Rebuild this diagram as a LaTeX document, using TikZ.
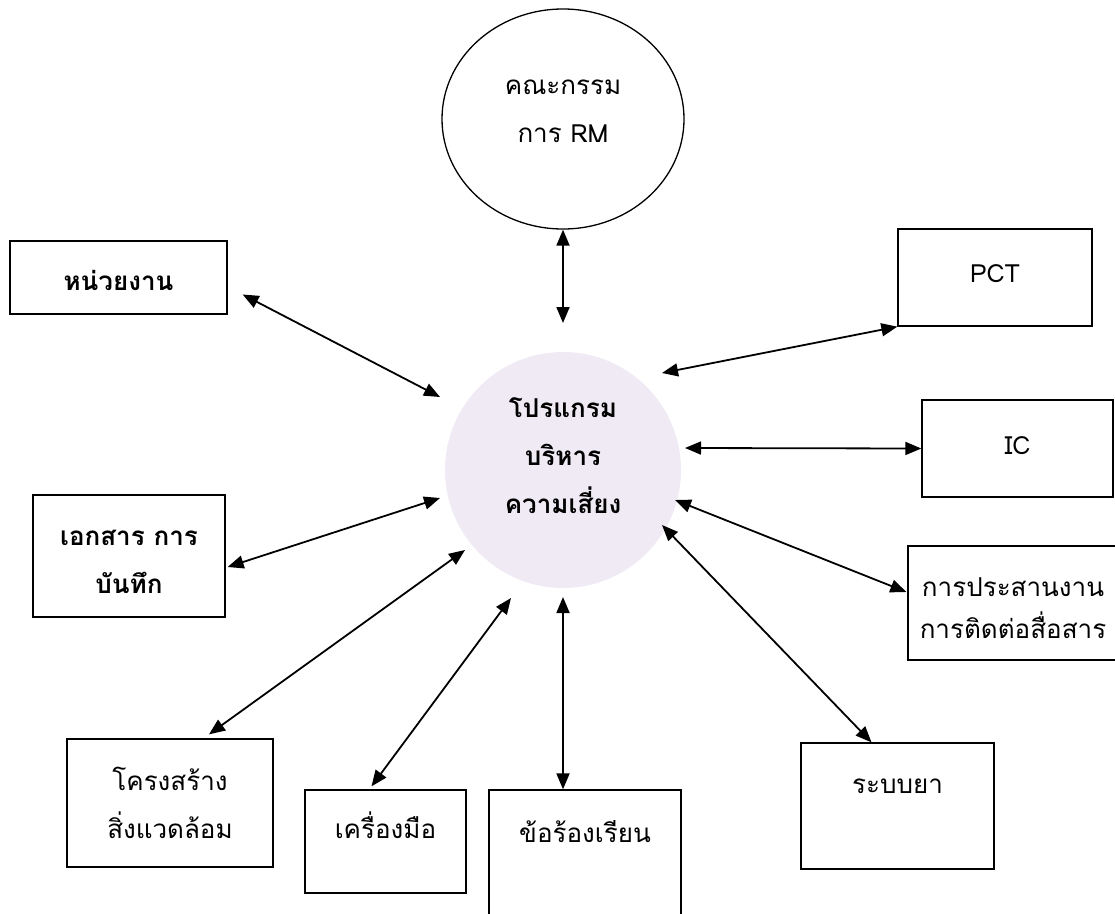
\documentclass[tikz,border=0pt]{standalone}
\usepackage{fontspec}
\usepackage{tikz}
\usetikzlibrary{arrows.meta,calc,shapes.geometric}
\newfontfamily\thaifont[Script=Thai]{Loma}
\definecolor{hubfill}{HTML}{EFEAF4}
\newcommand\latn[1]{{\fontsize{25}{48}\selectfont #1}}

\tikzset{
  every node/.style={font=\thaifont\fontsize{26}{48}\selectfont, align=center, text height=30pt},
  heavy/.style={font=\thaifont\bfseries\fontsize{26}{48}\selectfont},
  block/.style={draw, rectangle, line width=1.3pt, inner sep=0pt},
  drop/.style={text depth=#1},
  lines/.style={text height=#1, text depth=10pt},
  link/.style={{Triangle[length=16pt,width=13pt]}-{Triangle[length=16pt,width=13pt]}, line width=1.8pt},
}

\begin{document}
\begin{tikzpicture}[x=1pt,y=-1pt]
  \useasboundingbox (0,0) rectangle (1115,913);
  \node[circle, fill=hubfill, minimum size=236pt, inner sep=0pt, lines=96pt, heavy] (prog) at (563,470) {โปรแกรม\\บริหาร\\ความเสี่ยง};
  \node[draw, ellipse, line width=1.3pt, minimum width=242pt, minimum height=220pt, inner sep=0pt, lines=56pt] (rm) at (563,119) {คณะกรรม\\การ \latn{RM}};
  \node[block, heavy, minimum width=217pt, minimum height=73pt, drop=5pt] (unit) at (118.5,277.5) {หน่วยงาน};
  \node[block, heavy, minimum width=192pt, minimum height=122pt, lines=84pt] (docs) at (129,556) {เอกสาร การ\\บันทึก};
  \node[block, minimum width=206pt, minimum height=128pt, lines=80pt] (infra) at (170,803) {โครงสร้าง\\สิ่งแวดล้อม};
  \node[block, minimum width=161pt, minimum height=103pt, drop=37pt] (tools) at (385.5,841.5) {เครื่องมือ};
  \node[block, minimum width=192pt, minimum height=150pt, drop=76pt] (complaint) at (585,865) {ข้อร้องเรียน};
  \node[block, minimum width=193pt, minimum height=126pt, drop=56pt] (meds) at (897.5,806) {ระบบยา};
  \node[block, minimum width=210pt, minimum height=114pt, lines=80pt, font=\thaifont\fontsize{26}{42}\selectfont] (coord) at (1013,603) {การประสานงาน\\การติดต่อสื่อสาร};
  \node[block, minimum width=191pt, minimum height=97pt, drop=19pt] (ic) at (1017.5,448.5) {\latn{IC}};
  \node[block, minimum width=194pt, minimum height=97pt, drop=21pt] (pct) at (995,277.5) {\latn{PCT}};

  \draw[link] (rm.south) -- ($(prog)+(0,-147)$);
  \draw[link] ([shift={(15,17)}]unit.east) -- ($(prog)+(-123,-73)$);
  \draw[link] (pct.south west) -- ($(prog)+(99,-97)$);
  \draw[link] (ic.west) -- ($(prog)+(122,-22)$);
  \draw[link] ([shift={(-1,-11)}]coord.west) -- ($(prog)+(112,30)$);
  \draw[link] ([shift={(-26,0)}]meds.north) -- ($(prog)+(99,55)$);
  \draw[link] ([shift={(-22,0)}]complaint.north) -- ($(prog)+(0,127)$);
  \draw[link] ([shift={(-14,-3)}]tools.north) -- ($(prog)+(-52,128)$);
  \draw[link] ([shift={(39,-4)}]infra.north) -- ($(prog)+(-98,80)$);
  \draw[link] ([shift={(2,11)}]docs.east) -- ($(prog)+(-123,28)$);
\end{tikzpicture}
\end{document}
